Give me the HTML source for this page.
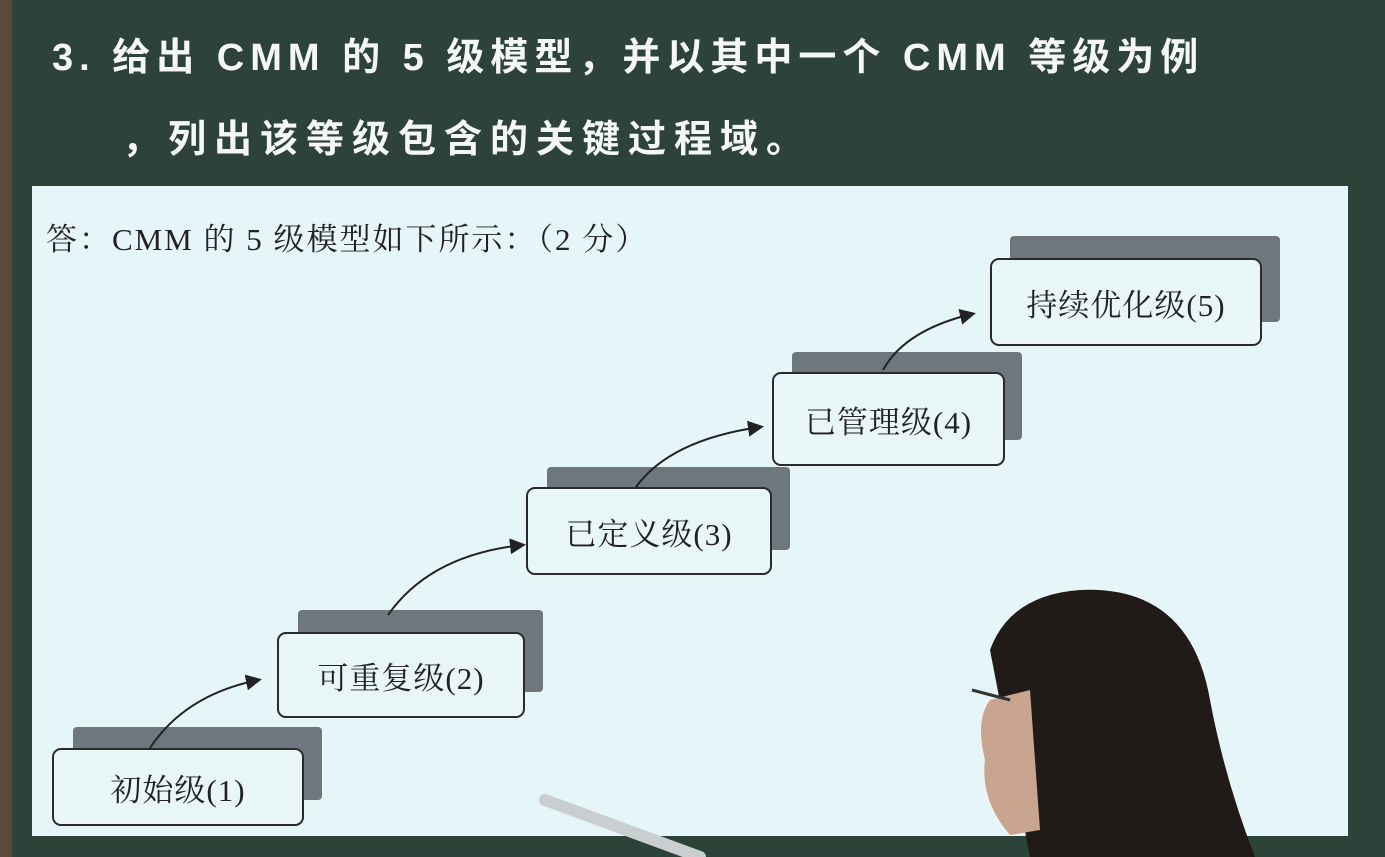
<!DOCTYPE html>
<html><head><meta charset="utf-8"><style>
body{margin:0;width:1385px;height:857px;overflow:hidden;background:#2d4238;position:relative;font-family:"Liberation Serif","Noto Serif CJK SC",serif}
.t{position:absolute;color:#f4f7f4;font-family:"Liberation Sans","Noto Sans CJK SC",sans-serif;font-weight:bold;font-size:38px;white-space:nowrap;letter-spacing:6px}
#panel{position:absolute;left:32px;top:186px;width:1316px;height:650px;background:#e6f5f7}
.sh{position:absolute;background:#6e777d;border-radius:4px}
.bx{position:absolute;background:#e8f6f8;border:2px solid #2a2a2a;border-radius:9px;box-sizing:border-box;display:flex;align-items:center;justify-content:center;font-size:31px;color:#222;letter-spacing:1px}
</style></head><body>
<div style="position:absolute;left:0;top:0;width:12px;height:857px;background:#5a4a3a"></div>
<div class="t" style="left:52px;top:26px">3. 给出 CMM 的 5 级模型，并以其中一个 CMM 等级为例</div>
<div class="t" style="left:122px;top:108px;letter-spacing:8px">，列出该等级包含的关键过程域。</div>
<div id="panel"></div>
<div style="position:absolute;left:46px;top:214px;font-size:31px;color:#222;letter-spacing:2px">答：CMM 的 5 级模型如下所示：（2 分）</div>
<div class="sh" style="left:73px;top:727px;width:249px;height:73px"></div>
<div class="sh" style="left:298px;top:610px;width:245px;height:82px"></div>
<div class="sh" style="left:547px;top:467px;width:243px;height:83px"></div>
<div class="sh" style="left:792px;top:352px;width:230px;height:88px"></div>
<div class="sh" style="left:1010px;top:236px;width:270px;height:86px"></div>
<div class="bx" style="left:52px;top:748px;width:252px;height:78px">初始级(1)</div>
<div class="bx" style="left:277px;top:632px;width:248px;height:86px">可重复级(2)</div>
<div class="bx" style="left:526px;top:487px;width:246px;height:88px">已定义级(3)</div>
<div class="bx" style="left:772px;top:372px;width:233px;height:94px">已管理级(4)</div>
<div class="bx" style="left:990px;top:258px;width:272px;height:88px">持续优化级(5)</div>
<svg width="1385" height="857" style="position:absolute;left:0;top:0">
<defs><marker id="a" markerWidth="8" markerHeight="8" refX="6" refY="4" orient="auto"><path d="M0,0L8,4L0,8z" fill="#222"/></marker></defs>
<g fill="none" stroke="#222" stroke-width="2" marker-end="url(#a)">
<path d="M150,748 Q185,695 258,680"/>
<path d="M388,615 Q430,555 522,545"/>
<path d="M636,487 Q670,440 760,427"/>
<path d="M883,370 Q905,330 972,314"/>
</g>
<path d="M545,800 L700,857" stroke="#c9cfd0" stroke-width="12" stroke-linecap="round"/>
<path d="M990,650 Q1010,595 1080,590 Q1190,585 1210,700 Q1225,780 1255,857 L1030,857 Z" fill="#201a18"/>
<path d="M990,700 Q975,720 985,760 Q980,800 1010,835 L1040,830 L1030,690 Z" fill="#c9a58f"/>
<path d="M972,690 L1010,700" stroke="#333" stroke-width="3"/>
</svg>
</body></html>
